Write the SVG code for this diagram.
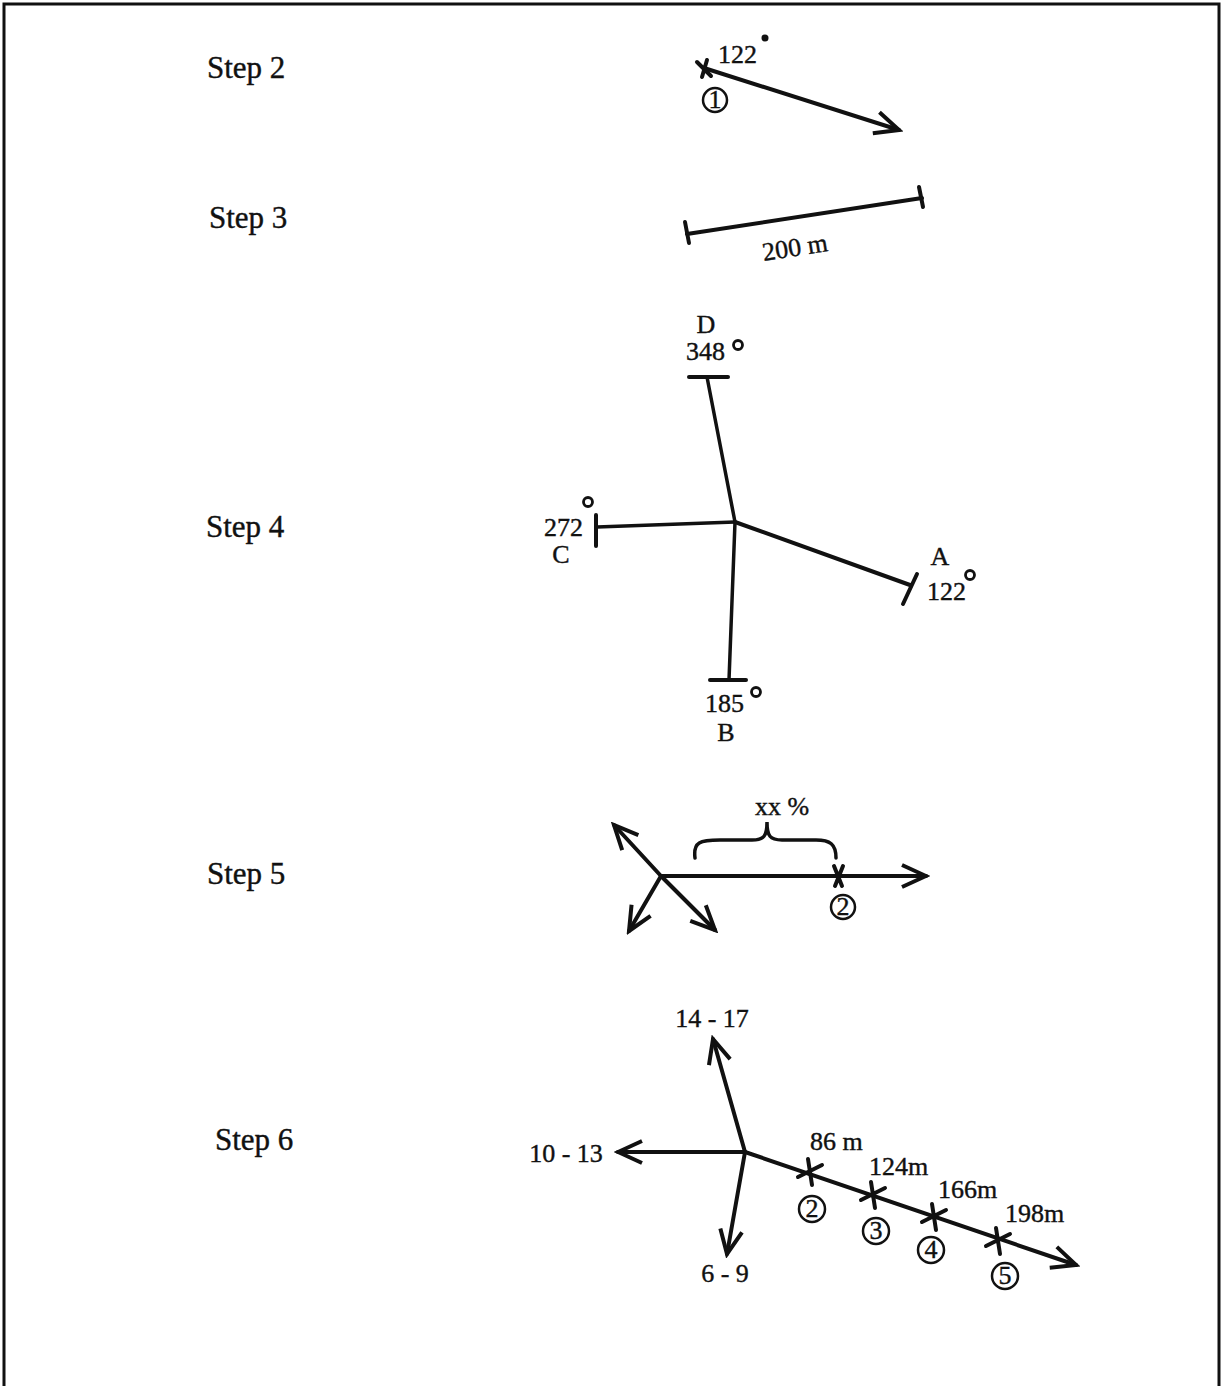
<svg xmlns="http://www.w3.org/2000/svg" width="1223" height="1386" viewBox="0 0 1223 1386">
<defs>
<style>
.t{font-family:"Liberation Serif","Times New Roman",serif;fill:#111;font-size:26px;stroke:#111;stroke-width:0.4}
.lbl{font-family:"Liberation Serif","Times New Roman",serif;fill:#111;font-size:31px;stroke:#111;stroke-width:0.4}
.ln{stroke:#111;stroke-width:4;fill:none;stroke-linecap:round}
.thin{stroke:#111;stroke-width:3.5;fill:none;stroke-linecap:round}
.circ{stroke:#111;stroke-width:2.5;fill:none}
.deg{stroke:#111;stroke-width:2.8;fill:none}
</style>
<marker id="arr" viewBox="-26 -13 30 26" markerWidth="30" markerHeight="26" refX="0" refY="0" orient="auto" markerUnits="userSpaceOnUse">
<path d="M-24,-11 L0,0 L-24,11" fill="none" stroke="#111" stroke-width="4" stroke-linejoin="miter"/>
</marker>
</defs>
<rect x="0" y="0" width="1223" height="1386" fill="#fff"/>
<rect id="frame" x="4" y="4" width="1215" height="1385" fill="none" stroke="#111" stroke-width="3"/>

<g id="labels">
<text class="lbl" x="207" y="78">Step 2</text>
<text class="lbl" x="209" y="228">Step 3</text>
<text class="lbl" x="206" y="537">Step 4</text>
<text class="lbl" x="207" y="884">Step 5</text>
<text class="lbl" x="215" y="1150">Step 6</text>
</g>

<g id="connectors">
<!-- step 2 -->
<line class="ln" x1="704" y1="68" x2="899" y2="130" marker-end="url(#arr)"/>
<path class="ln" d="M697,62 L711,76 M702,77 L707,60"/>
<!-- step 3 -->
<line class="ln" x1="687" y1="234" x2="922" y2="198"/>
<line class="ln" x1="685" y1="222" x2="689" y2="243"/>
<line class="ln" x1="919" y1="187" x2="923" y2="207"/>
<!-- step 4 -->
<line class="thin" x1="735" y1="522" x2="707" y2="377"/>
<line class="ln" x1="689" y1="377" x2="728" y2="377"/>
<line class="thin" x1="735" y1="522" x2="597" y2="527"/>
<line class="ln" x1="596" y1="515" x2="596" y2="546"/>
<line class="ln" x1="735" y1="522" x2="910" y2="585"/>
<line class="ln" x1="903" y1="604" x2="917" y2="574"/>
<line class="thin" x1="735" y1="522" x2="729" y2="680"/>
<line class="ln" x1="710" y1="680" x2="746" y2="680"/>
<!-- step 5 -->
<line class="ln" x1="661" y1="876" x2="926" y2="876" marker-end="url(#arr)"/>
<line class="ln" x1="661" y1="876" x2="614" y2="825" marker-end="url(#arr)"/>
<line class="ln" x1="661" y1="876" x2="629" y2="931" marker-end="url(#arr)"/>
<line class="ln" x1="661" y1="876" x2="715" y2="930" marker-end="url(#arr)"/>
<path class="thin" d="M695,858 C693,842 700,840 720,840 L752,840 C764,840 767,836 767,822 C767,836 770,840 782,840 L816,840 C830,840 836,844 836,858"/>
<path class="ln" d="M834,866 L842,886 M843,866 L835,886"/>
<!-- step 6 -->
<line class="ln" x1="745" y1="1152" x2="713" y2="1039" marker-end="url(#arr)"/>
<line class="ln" x1="745" y1="1152" x2="618" y2="1152" marker-end="url(#arr)"/>
<line class="ln" x1="745" y1="1152" x2="727" y2="1254" marker-end="url(#arr)"/>
<line class="ln" x1="745" y1="1152" x2="1076" y2="1265" marker-end="url(#arr)"/>
<path class="ln" d="M808,1159 L812,1185 M798,1177 L822,1165"/>
<path class="ln" d="M871,1182 L875,1208 M861,1200 L885,1188"/>
<path class="ln" d="M932,1204 L936,1230 M922,1222 L946,1210"/>
<path class="ln" d="M996,1228 L1000,1254 M986,1246 L1010,1234"/>
</g>

<g id="step2">
<text class="t" x="718" y="63">122</text>
<circle cx="765" cy="38" r="3.5" fill="#111"/>
<circle class="circ" cx="715" cy="100" r="12"/>
<text class="t" x="715" y="108" text-anchor="middle" font-size="20">1</text>
</g>

<g id="step3">
<text class="t" x="795" y="256" text-anchor="middle" transform="rotate(-9 795 248)">200 m</text>
</g>

<g id="step4">
<text class="t" x="706" y="333" text-anchor="middle">D</text>
<text class="t" x="686" y="360">348</text>
<circle class="deg" cx="738" cy="345" r="4.5"/>
<text class="t" x="544" y="536">272</text>
<circle class="deg" cx="588" cy="502" r="4.5"/>
<text class="t" x="561" y="563" text-anchor="middle">C</text>
<text class="t" x="940" y="565" text-anchor="middle">A</text>
<text class="t" x="927" y="600">122</text>
<circle class="deg" cx="970" cy="575" r="4.5"/>
<text class="t" x="705" y="712">185</text>
<circle class="deg" cx="756" cy="692" r="4.5"/>
<text class="t" x="726" y="741" text-anchor="middle">B</text>
</g>

<g id="step5">
<text class="t" x="782" y="815" text-anchor="middle">xx %</text>
<circle class="circ" cx="843" cy="907" r="12"/>
<text class="t" x="843" y="915" text-anchor="middle" font-size="21">2</text>
</g>

<g id="step6">
<text class="t" x="712" y="1027" text-anchor="middle">14 - 17</text>
<text class="t" x="566" y="1162" text-anchor="middle">10 - 13</text>
<text class="t" x="725" y="1282" text-anchor="middle">6 - 9</text>
<text class="t" x="810" y="1150">86 m</text>
<text class="t" x="869" y="1175">124m</text>
<text class="t" x="938" y="1198">166m</text>
<text class="t" x="1005" y="1222">198m</text>
<circle class="circ" cx="812" cy="1209" r="13"/>
<text class="t" x="812" y="1217" text-anchor="middle" font-size="21">2</text>
<circle class="circ" cx="876" cy="1231" r="13"/>
<text class="t" x="876" y="1239" text-anchor="middle" font-size="21">3</text>
<circle class="circ" cx="931" cy="1250" r="13"/>
<text class="t" x="931" y="1258" text-anchor="middle" font-size="21">4</text>
<circle class="circ" cx="1005" cy="1276" r="13"/>
<text class="t" x="1005" y="1284" text-anchor="middle" font-size="21">5</text>
</g>
</svg>
